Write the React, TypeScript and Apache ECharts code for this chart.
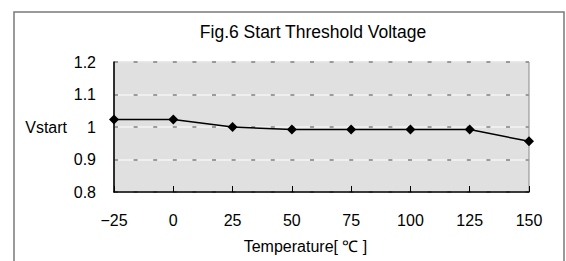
import React, { useEffect, useRef } from "react";
import * as echarts from "echarts";

const temperatures = [-25, 0, 25, 50, 75, 100, 125, 150];
const vstart = [1.023, 1.023, 1.0, 0.992, 0.992, 0.992, 0.992, 0.956];
const titleText = "Fig.6 Start Threshold Voltage";
const xName = "Temperature[ ℃ ]";
const yName = "Vstart";

const FONT = "'Liberation Sans', Arial, sans-serif";

export default function App() {
  const ref = useRef<HTMLDivElement>(null);
  useEffect(() => {
    document.body.style.margin = "0";
    const chart = echarts.init(ref.current!, null, { renderer: "svg" });
    const data = temperatures.map((t, i) => [t, vstart[i]]);
    chart.setOption({
      animation: false,
      backgroundColor: "#ffffff",
      textStyle: { fontFamily: FONT },
      title: {
        text: titleText,
        left: 308,
        textAlign: "center",
        top: 18,
        textStyle: { fontFamily: FONT, fontSize: 17.5, fontWeight: "normal", color: "#000" },
      },
      graphic: [
        {
          type: "rect",
          shape: { x: 14, y: 12, width: 550, height: 270 },
          style: { fill: "none", stroke: "#7a7a7a", lineWidth: 1.5 },
          z: -1,
        },
      ],
      grid: {
        left: 114,
        right: 37,
        top: 62,
        bottom: 69,
        show: true,
        backgroundColor: "#e0e0e0",
        borderColor: "#8a8a8a",
        borderWidth: 1,
      },
      xAxis: {
        type: "value",
        min: -25,
        max: 150,
        interval: 25,
        name: xName,
        nameLocation: "middle",
        nameGap: 46,
        nameTextStyle: { fontFamily: FONT, fontSize: 16, color: "#000", padding: [0, 32, 0, 0] },
        axisLine: { show: true, onZero: false, lineStyle: { color: "#000", width: 1.5 } },
        axisTick: { show: true, inside: true, length: 6, lineStyle: { color: "#000" } },
        axisLabel: {
          fontFamily: FONT,
          fontSize: 16,
          color: "#000",
          margin: 20,
          formatter: (v: number) => String(v).replace("-", "\u2212"),
        },
        splitLine: { show: false },
      },
      yAxis: [
        {
          type: "value",
          min: 0.8,
          max: 1.2,
          interval: 0.1,
          name: yName,
          nameLocation: "middle",
          nameRotate: 0,
          nameGap: 47,
          nameTextStyle: { fontFamily: FONT, fontSize: 16, color: "#000", align: "right" },
          axisLine: { show: true, onZero: false, lineStyle: { color: "#000", width: 1.5 } },
          axisTick: { show: false },
          axisLabel: {
            fontFamily: FONT,
            fontSize: 16,
            color: "#000",
            margin: 18,
            formatter: (v: number) => String(Math.round(v * 10) / 10),
          },
          splitLine: { show: true, lineStyle: { color: "#f4f4f4", width: 1.5 } },
        },
        {
          type: "value",
          min: 0.8,
          max: 1.2,
          interval: 0.1,
          axisLine: { show: false, onZero: false },
          axisTick: { show: false },
          axisLabel: { show: false },
          splitLine: {
            show: true,
            lineStyle: { color: "#808080", width: 1.5, type: [4, 15.6] },
          },
        },
      ],
      series: [
        {
          type: "line",
          data,
          yAxisIndex: 0,
          symbol: "diamond",
          symbolSize: 10,
          lineStyle: { color: "#000", width: 1.5 },
          itemStyle: { color: "#000" },
          z: 5,
        },
      ],
    });
    return () => chart.dispose();
  }, []);
  return <div ref={ref} style={{ width: 566, height: 261 }} />;
}
